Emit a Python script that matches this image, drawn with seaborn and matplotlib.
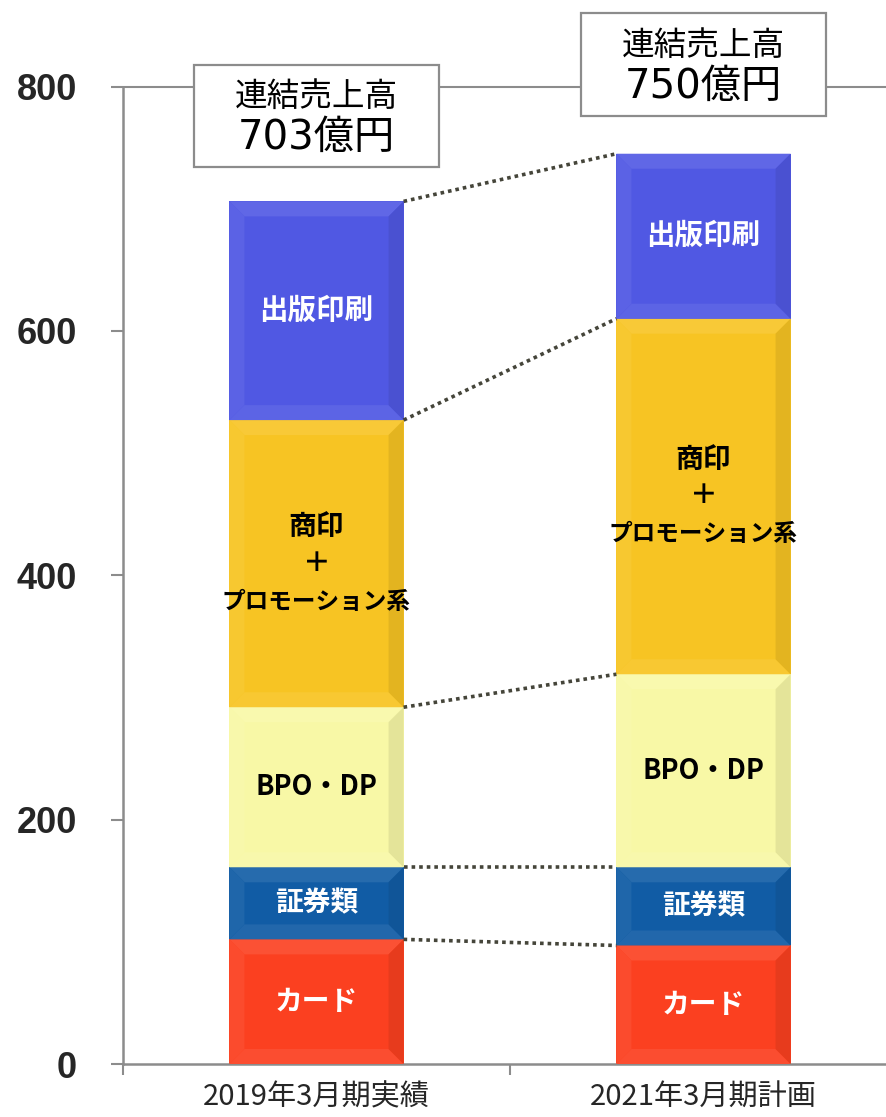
import numpy as np
import pandas as pd
import matplotlib
matplotlib.use("Agg")
import matplotlib.pyplot as plt
import matplotlib.colors as mcolors
from matplotlib.patches import Rectangle, Polygon
import seaborn as sns

# ---------------- data ----------------
categories = ["2019年3月期実績", "2021年3月期計画"]
segments = ["カード", "証券類", "BPO・DP", "商印\n＋\nプロモーション系", "出版印刷"]
card = [102, 97]
securities = [59, 64]
bpo = [131, 158]
commercial = [235, 291]
publishing = [179, 135]
box_title = "連結売上高"
box_values = ["703億円", "750億円"]
yticks = [0, 200, 400, 600, 800]

# ---------------- style ----------------
seg_colors = ["#FB4020", "#115CA5", "#F8F8A6", "#F7C423", "#5058E3"]
seg_text_colors = ["white", "white", "black", "black", "white"]
seg_font_sizes = [20, 20, 19.5, None, 20.5]
BAR_W = 0.45
GRAY = "#8C8C8C"

sns.set_theme(style="white")
plt.rcParams["font.family"] = ["Noto Sans CJK JP", "DejaVu Sans"]

fig = plt.figure(figsize=(8.86, 11.17), dpi=100)
ax = fig.add_axes([123 / 886, 53 / 1117, 774 / 886, 1063 / 1117])

values = np.array([card, securities, bpo, commercial, publishing], dtype=float)
cum = np.cumsum(values, axis=0)
bottoms = np.vstack([np.zeros(2), cum[:-1]])

# stacked bars: draw cumulative totals back to front
for i in reversed(range(len(segments))):
    df = pd.DataFrame({"cat": categories, "val": cum[i]})
    sns.barplot(data=df, x="cat", y="val", order=categories, color=seg_colors[i],
                saturation=1, width=BAR_W, linewidth=0, edgecolor="none", ax=ax, zorder=2)

ax.set_xlim(-0.5, 1.5)
ax.set_ylim(0, 870)

# bevel effect derived from the data geometry
t0 = ax.transData.transform((0, 0))
sx = ax.transData.transform((1, 0))[0] - t0[0]
sy = ax.transData.transform((0, 1))[1] - t0[1]
b = 15
bx, by0 = b / sx, b / sy


def shade(c, amt):
    rgb = np.array(mcolors.to_rgb(c))
    if amt >= 0:
        return tuple(rgb + (1 - rgb) * amt)
    return tuple(rgb * (1 + amt))


for j in range(len(categories)):
    x0, x1 = j - BAR_W / 2, j + BAR_W / 2
    for i in range(len(segments)):
        y0, y1 = bottoms[i, j], cum[i, j]
        by = min(by0, (y1 - y0) / 2)
        c = seg_colors[i]
        polys = [
            ([(x0, y1), (x1, y1), (x1 - bx, y1 - by), (x0 + bx, y1 - by)], shade(c, 0.09)),
            ([(x0, y0), (x1, y0), (x1 - bx, y0 + by), (x0 + bx, y0 + by)], shade(c, 0.07)),
            ([(x0, y0), (x0, y1), (x0 + bx, y1 - by), (x0 + bx, y0 + by)], shade(c, 0.06)),
            ([(x1, y0), (x1, y1), (x1 - bx, y1 - by), (x1 - bx, y0 + by)], shade(c, -0.08)),
        ]
        for pts, col in polys:
            ax.add_patch(Polygon(pts, closed=True, facecolor=col, edgecolor="none", zorder=3))
        cy = (y0 + y1) / 2
        if "\n" in segments[i]:
            lines = segments[i].split("\n")
            sizes = [20, 20, 17]
            offs = [30, 0, -31]
            for ln, fs, off in zip(lines, sizes, offs):
                ax.text(j, cy + off, ln, ha="center", va="center", fontsize=fs,
                        fontweight="bold", color=seg_text_colors[i], zorder=6)
        else:
            ax.text(j, cy, segments[i], ha="center", va="center",
                    fontsize=seg_font_sizes[i], fontweight="bold", color=seg_text_colors[i],
                    zorder=6)

# dotted connectors between segment tops
for i in range(len(segments)):
    ax.plot([BAR_W / 2, 1 - BAR_W / 2], [cum[i, 0], cum[i, 1]], linestyle=(0, (1, 1.1)),
            linewidth=2.6, color="#45453A", zorder=4, solid_capstyle="butt")

# gridline at top
ax.axhline(800, color=GRAY, linewidth=1.5, zorder=1)

# total boxes
BOX_W, BOX_H = 0.633, 84
box_offsets = [70, 73]
for j in range(len(categories)):
    cy = cum[-1, j] + box_offsets[j]
    ax.add_patch(Rectangle((j - BOX_W / 2, cy - BOX_H / 2), BOX_W, BOX_H, facecolor="white",
                           edgecolor=GRAY, linewidth=1.6, zorder=5, clip_on=False))
    ax.text(j, cy + 15.5, box_title, ha="center", va="center", fontsize=23.5,
            color="black", zorder=6, clip_on=False)
    ax.text(j, cy - 18, box_values[j], ha="center", va="center", fontsize=29,
            family=["DejaVu Sans", "Noto Sans CJK JP"], color="black", zorder=6, clip_on=False)

# axes styling
for s in ["top", "right"]:
    ax.spines[s].set_visible(False)
ax.spines["left"].set_bounds(0, 800)
for s in ["left", "bottom"]:
    ax.spines[s].set_color(GRAY)
    ax.spines[s].set_linewidth(1.8)

ax.set_yticks(yticks)
ax.set_yticklabels([str(v) for v in yticks])
for lab in ax.get_yticklabels():
    lab.set_fontfamily(["Liberation Sans", "DejaVu Sans"])
    lab.set_fontweight("bold")
    lab.set_fontsize(26)
ax.tick_params(axis="y", left=True, length=9, width=1.5, color=GRAY, pad=24)

ax.set_xticks([0, 1])
ax.set_xticklabels(categories, fontsize=21)
ax.set_xticks([-0.5, 0.5, 1.5], minor=True)
ax.tick_params(axis="x", which="major", bottom=False, length=0, pad=13)
ax.tick_params(axis="x", which="minor", bottom=True, length=8, width=1.5, color=GRAY)
ax.set_xlabel("")
ax.set_ylabel("")
ax.grid(False)

fig.savefig("out.png", dpi=100)
